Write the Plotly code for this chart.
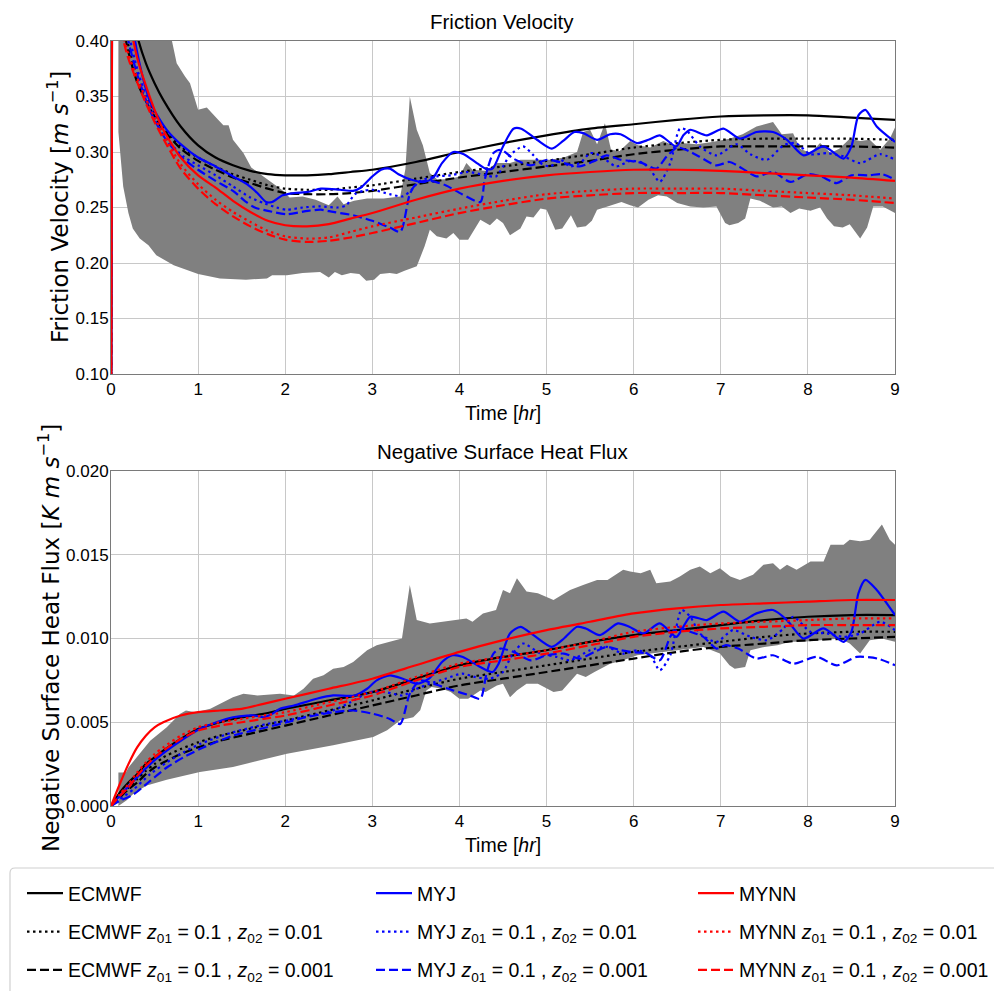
import plotly.graph_objects as go

# ------------------------------------------------------------------
# Time grids (hours)
# ------------------------------------------------------------------
T_UST = [0, 0.02, 0.05, 0.1, 0.15, 0.2, 0.3, 0.4, 0.5, 0.6, 0.8, 1.0, 1.2, 1.4, 1.6, 1.8, 2.0,
         2.25, 2.5, 2.75, 3.0, 3.5, 4.0, 4.5, 5.0, 5.5, 6.0, 6.5, 7.0, 7.5, 8.0, 8.5, 9.0]
T_HFX = [0, 0.1, 0.2, 0.3, 0.4, 0.5, 0.6, 0.8, 1.0, 1.25, 1.5, 1.75, 2.0, 2.5, 3.0,
         3.5, 4.0, 4.5, 5.0, 5.5, 6.0, 6.5, 7.0, 7.5, 8.0, 8.5, 9.0]

# ------------------------------------------------------------------
# Friction velocity u* [m/s]
# ------------------------------------------------------------------
UST_ECMWF = [0, 0.75, 0.62, 0.53, 0.48, 0.445, 0.405, 0.38, 0.362, 0.347, 0.323, 0.306, 0.295,
             0.288, 0.283, 0.280, 0.279, 0.279, 0.280, 0.282, 0.284, 0.291, 0.300, 0.308, 0.315,
             0.321, 0.325, 0.329, 0.332, 0.333, 0.333, 0.331, 0.329]
UST_ECMWF_01 = [0, 0.62, 0.52, 0.455, 0.418, 0.396, 0.368, 0.350, 0.336, 0.323, 0.305, 0.295, 0.287,
                0.280, 0.275, 0.270, 0.267, 0.266, 0.266, 0.268, 0.270, 0.276, 0.282, 0.287, 0.292,
                0.298, 0.304, 0.308, 0.311, 0.312, 0.312, 0.312, 0.311]
UST_ECMWF_001 = [0, 0.60, 0.50, 0.445, 0.41, 0.39, 0.363, 0.346, 0.332, 0.320, 0.303, 0.292, 0.284,
                 0.277, 0.272, 0.267, 0.263, 0.262, 0.262, 0.263, 0.265, 0.271, 0.277, 0.282, 0.287,
                 0.292, 0.298, 0.302, 0.305, 0.305, 0.305, 0.305, 0.304]
UST_MYNN = [0, 0.70, 0.58, 0.50, 0.455, 0.425, 0.385, 0.36, 0.338, 0.320, 0.295, 0.279, 0.268,
            0.256, 0.246, 0.238, 0.234, 0.233, 0.235, 0.240, 0.245, 0.257, 0.267, 0.274, 0.279,
            0.282, 0.284, 0.284, 0.283, 0.281, 0.279, 0.277, 0.274]
UST_MYNN_01 = [0, 0.56, 0.475, 0.425, 0.402, 0.388, 0.367, 0.348, 0.331, 0.316, 0.289, 0.271, 0.257,
               0.246, 0.237, 0.229, 0.224, 0.222, 0.223, 0.228, 0.233, 0.241, 0.249, 0.256, 0.262,
               0.265, 0.267, 0.267, 0.267, 0.265, 0.263, 0.261, 0.258]
UST_MYNN_001 = [0, 0.55, 0.47, 0.42, 0.398, 0.384, 0.363, 0.344, 0.327, 0.312, 0.285, 0.267, 0.253,
                0.242, 0.233, 0.226, 0.221, 0.219, 0.220, 0.223, 0.227, 0.236, 0.245, 0.252, 0.258,
                0.261, 0.263, 0.263, 0.263, 0.261, 0.259, 0.257, 0.254]

UST_MYJ = [(0, 0), (0.02, 0.72), (0.05, 0.60), (0.1, 0.52), (0.15, 0.47), (0.2, 0.44), (0.3, 0.39),
           (0.45, 0.345), (0.64, 0.320), (0.83, 0.305), (1.0, 0.295), (1.2, 0.287), (1.4, 0.278),
           (1.56, 0.271), (1.68, 0.263), (1.78, 0.255), (1.85, 0.255), (1.97, 0.261), (2.1, 0.263),
           (2.26, 0.264), (2.41, 0.267), (2.63, 0.266), (2.78, 0.265), (2.87, 0.268), (3.0, 0.278),
           (3.1, 0.284), (3.2, 0.285), (3.3, 0.280), (3.45, 0.275), (3.6, 0.273), (3.7, 0.277),
           (3.8, 0.290), (3.93, 0.300), (4.05, 0.298), (4.2, 0.290), (4.3, 0.285), (4.38, 0.285),
           (4.5, 0.305), (4.62, 0.321), (4.71, 0.321), (4.89, 0.311), (5.06, 0.303), (5.19, 0.310),
           (5.32, 0.318), (5.42, 0.317), (5.58, 0.311), (5.73, 0.316), (5.85, 0.316), (6.04, 0.308),
           (6.17, 0.311), (6.3, 0.315), (6.49, 0.305), (6.57, 0.315), (6.65, 0.320), (6.84, 0.315),
           (7.03, 0.321), (7.22, 0.312), (7.41, 0.318), (7.6, 0.318), (7.76, 0.311), (7.95, 0.297),
           (8.18, 0.305), (8.41, 0.294), (8.5, 0.305), (8.58, 0.333), (8.66, 0.338), (8.79, 0.323),
           (9.0, 0.309)]
UST_MYJ_01 = [(0, 0), (0.02, 0.65), (0.05, 0.54), (0.1, 0.47), (0.15, 0.43), (0.2, 0.408), (0.3, 0.375),
              (0.45, 0.340), (0.64, 0.312), (0.83, 0.296), (1.0, 0.288), (1.2, 0.279), (1.4, 0.269),
              (1.6, 0.259), (1.75, 0.254), (1.9, 0.250), (2.02, 0.248), (2.2, 0.250), (2.4, 0.251),
              (2.6, 0.250), (2.7, 0.252), (2.8, 0.262), (2.9, 0.265), (3.0, 0.266), (3.2, 0.262),
              (3.35, 0.260), (3.45, 0.266), (3.55, 0.274), (3.74, 0.278), (3.9, 0.279), (4.1, 0.282),
              (4.3, 0.279), (4.42, 0.278), (4.58, 0.297), (4.73, 0.305), (4.85, 0.297), (4.93, 0.290),
              (5.04, 0.287), (5.16, 0.293), (5.27, 0.287), (5.4, 0.291), (5.5, 0.299), (5.61, 0.297),
              (5.8, 0.287), (5.96, 0.292), (6.11, 0.290), (6.2, 0.283), (6.3, 0.273), (6.42, 0.290),
              (6.53, 0.321), (6.6, 0.320), (6.76, 0.305), (6.95, 0.297), (7.18, 0.307), (7.34, 0.298),
              (7.53, 0.293), (7.72, 0.306), (7.86, 0.308), (8.03, 0.298), (8.22, 0.299), (8.41, 0.296),
              (8.6, 0.290), (8.83, 0.298), (9.0, 0.293)]
UST_MYJ_001 = [(0, 0), (0.02, 0.63), (0.05, 0.53), (0.1, 0.46), (0.15, 0.423), (0.2, 0.40), (0.3, 0.37),
               (0.45, 0.337), (0.64, 0.310), (0.83, 0.294), (1.0, 0.284), (1.2, 0.274), (1.4, 0.265),
               (1.55, 0.255), (1.65, 0.250), (1.8, 0.247), (2.02, 0.244), (2.26, 0.247), (2.41, 0.248),
               (2.55, 0.246), (2.78, 0.243), (3.0, 0.238), (3.2, 0.232), (3.32, 0.228), (3.43, 0.262),
               (3.51, 0.272), (3.66, 0.274), (3.84, 0.270), (4.03, 0.262), (4.24, 0.255), (4.29, 0.275),
               (4.39, 0.299), (4.48, 0.302), (4.62, 0.294), (4.82, 0.288), (5.01, 0.293), (5.2, 0.290),
               (5.38, 0.287), (5.55, 0.292), (5.69, 0.297), (5.85, 0.293), (5.96, 0.292), (6.1, 0.290),
               (6.26, 0.285), (6.38, 0.296), (6.5, 0.304), (6.6, 0.302), (6.75, 0.296), (6.95, 0.288),
               (7.1, 0.291), (7.25, 0.285), (7.41, 0.278), (7.6, 0.282), (7.8, 0.273), (8.0, 0.280),
               (8.15, 0.278), (8.33, 0.272), (8.5, 0.279), (8.7, 0.279), (8.85, 0.280), (9.0, 0.275)]

# observed spread of u* (lower / upper envelope)
UST_OBS_LO = [(0.085, 0.318), (0.14, 0.269), (0.2, 0.245), (0.25, 0.231), (0.33, 0.222), (0.43, 0.216),
              (0.52, 0.207), (0.72, 0.198), (1.0, 0.190), (1.25, 0.186), (1.55, 0.185), (1.79, 0.186),
              (1.85, 0.189), (2.02, 0.189), (2.2, 0.191), (2.4, 0.192), (2.5, 0.187), (2.57, 0.192),
              (2.65, 0.189), (2.75, 0.191), (2.85, 0.190), (2.93, 0.184), (3.02, 0.185), (3.09, 0.190),
              (3.2, 0.191), (3.28, 0.190), (3.37, 0.193), (3.51, 0.197), (3.6, 0.215), (3.66, 0.230),
              (3.74, 0.224), (3.85, 0.222), (3.93, 0.227), (4.0, 0.221), (4.1, 0.221), (4.24, 0.239),
              (4.35, 0.234), (4.43, 0.240), (4.5, 0.236), (4.58, 0.225), (4.7, 0.231), (4.77, 0.242),
              (4.85, 0.241), (4.93, 0.249), (5.0, 0.248), (5.1, 0.230), (5.18, 0.231), (5.28, 0.243),
              (5.35, 0.232), (5.45, 0.233), (5.52, 0.238), (5.58, 0.248), (5.7, 0.251), (5.86, 0.255),
              (5.96, 0.252), (6.05, 0.250), (6.17, 0.257), (6.28, 0.261), (6.38, 0.260), (6.5, 0.254),
              (6.65, 0.251), (6.8, 0.250), (6.95, 0.251), (7.05, 0.236), (7.1, 0.234), (7.2, 0.236),
              (7.28, 0.240), (7.34, 0.258), (7.45, 0.256), (7.6, 0.250), (7.7, 0.251), (7.8, 0.245),
              (7.9, 0.249), (8.03, 0.247), (8.14, 0.250), (8.22, 0.240), (8.3, 0.233), (8.4, 0.232),
              (8.48, 0.235), (8.6, 0.222), (8.68, 0.232), (8.75, 0.251), (8.86, 0.251), (9.0, 0.245)]
UST_OBS_HI = [(0.085, 0.60), (0.6, 0.45), (0.7, 0.40), (0.754, 0.380), (0.85, 0.368), (0.907, 0.362),
              (1.0, 0.338), (1.1, 0.340), (1.23, 0.329), (1.29, 0.324), (1.35, 0.324), (1.40, 0.311),
              (1.52, 0.299), (1.61, 0.286), (1.75, 0.278), (1.96, 0.266), (2.05, 0.259), (2.2, 0.260),
              (2.35, 0.257), (2.5, 0.252), (2.6, 0.260), (2.67, 0.253), (2.79, 0.256), (2.94, 0.258),
              (3.13, 0.258), (3.32, 0.260), (3.38, 0.285), (3.43, 0.350), (3.51, 0.320), (3.58, 0.306),
              (3.66, 0.281), (3.75, 0.275), (3.9, 0.276), (4.0, 0.278), (4.08, 0.290), (4.15, 0.284),
              (4.3, 0.283), (4.43, 0.290), (4.58, 0.290), (4.7, 0.293), (4.9, 0.293), (5.04, 0.293),
              (5.2, 0.295), (5.35, 0.300), (5.42, 0.318), (5.5, 0.320), (5.58, 0.307), (5.67, 0.326),
              (5.74, 0.302), (5.84, 0.301), (5.96, 0.310), (6.05, 0.306), (6.19, 0.304), (6.34, 0.310),
              (6.45, 0.306), (6.55, 0.308), (6.72, 0.307), (6.9, 0.309), (7.1, 0.312), (7.25, 0.316),
              (7.41, 0.323), (7.6, 0.327), (7.7, 0.316), (7.83, 0.317), (7.91, 0.303), (8.03, 0.299),
              (8.14, 0.308), (8.26, 0.299), (8.36, 0.303), (8.48, 0.312), (8.6, 0.310), (8.71, 0.311),
              (8.83, 0.302), (8.94, 0.312), (9.0, 0.322)]

# ------------------------------------------------------------------
# Negative surface heat flux [K m/s]
# ------------------------------------------------------------------
HFX_ECMWF = [0, 0.0008, 0.0014, 0.0019, 0.0025, 0.0029, 0.0033, 0.0040, 0.0046, 0.0050, 0.0053,
             0.0055, 0.0058, 0.0063, 0.0068, 0.0076, 0.0084, 0.0089, 0.0093, 0.0098, 0.0102, 0.0105,
             0.0108, 0.0111, 0.0113, 0.0114, 0.0114]
HFX_ECMWF_01 = [0, 0.0006, 0.0011, 0.0016, 0.0021, 0.0025, 0.0029, 0.0034, 0.0038, 0.0042, 0.0045,
                0.0048, 0.0051, 0.0057, 0.0063, 0.0070, 0.0076, 0.0080, 0.0084, 0.0088, 0.0092, 0.0095,
                0.0098, 0.0101, 0.0103, 0.0104, 0.0104]
HFX_ECMWF_001 = [0, 0.0005, 0.0010, 0.0014, 0.0019, 0.0023, 0.0026, 0.0031, 0.0035, 0.0039, 0.0042,
                 0.0045, 0.0048, 0.0054, 0.0060, 0.0066, 0.0072, 0.0076, 0.0080, 0.0084, 0.0088, 0.0092,
                 0.0095, 0.0097, 0.0099, 0.0100, 0.0101]
HFX_MYNN = [0, 0.0013, 0.0025, 0.0035, 0.0042, 0.0047, 0.0050, 0.0054, 0.0056, 0.0057, 0.0058,
            0.0061, 0.0064, 0.0070, 0.0076, 0.0084, 0.0092, 0.0099, 0.0105, 0.0110, 0.0115, 0.0118,
            0.0120, 0.0121, 0.0122, 0.0123, 0.0123]
HFX_MYNN_01 = [0, 0.0007, 0.0013, 0.0020, 0.0026, 0.0031, 0.0035, 0.0042, 0.0047, 0.0050, 0.0052,
               0.0054, 0.0056, 0.0062, 0.0068, 0.0077, 0.0085, 0.0089, 0.0093, 0.0098, 0.0104, 0.0107,
               0.0109, 0.0110, 0.0111, 0.0112, 0.0112]
HFX_MYNN_001 = [0, 0.0006, 0.0011, 0.0018, 0.0024, 0.0029, 0.0033, 0.0040, 0.0045, 0.0048, 0.0050,
                0.0052, 0.0054, 0.0060, 0.0066, 0.0075, 0.0083, 0.0087, 0.0091, 0.0096, 0.0101, 0.0104,
                0.0106, 0.0107, 0.0108, 0.0108, 0.0108]

HFX_MYJ = [(0, 0), (0.1, 0.0006), (0.26, 0.0015), (0.45, 0.0025), (0.64, 0.0033), (0.83, 0.0040),
           (1.02, 0.0046), (1.21, 0.0050), (1.4, 0.0053), (1.56, 0.0054), (1.66, 0.0054), (1.75, 0.0053),
           (1.85, 0.0055), (1.94, 0.0058), (2.1, 0.0060), (2.36, 0.0064), (2.55, 0.0066), (2.8, 0.0066),
           (2.94, 0.0070), (3.05, 0.0075), (3.2, 0.0078), (3.35, 0.0076), (3.51, 0.0073), (3.65, 0.0076),
           (3.8, 0.0086), (3.92, 0.0090), (4.04, 0.0089), (4.24, 0.0083), (4.38, 0.0080), (4.45, 0.0085),
           (4.58, 0.0103), (4.7, 0.0107), (4.85, 0.0102), (5.06, 0.0095), (5.2, 0.0100), (5.35, 0.0107),
           (5.45, 0.0106), (5.61, 0.0102), (5.82, 0.0109), (5.95, 0.0107), (6.11, 0.0103), (6.3, 0.0109),
           (6.49, 0.0101), (6.57, 0.0107), (6.65, 0.0113), (6.84, 0.0111), (7.03, 0.0116), (7.22, 0.0110),
           (7.41, 0.0115), (7.6, 0.0117), (7.76, 0.0111), (7.95, 0.0100), (8.18, 0.0106), (8.41, 0.0098),
           (8.5, 0.0104), (8.58, 0.0127), (8.66, 0.0135), (8.79, 0.0129), (9.0, 0.0114)]
HFX_MYJ_01 = [(0, 0), (0.1, 0.0004), (0.26, 0.0010), (0.45, 0.0019), (0.64, 0.0026), (0.83, 0.0032),
              (1.02, 0.0037), (1.4, 0.0044), (1.79, 0.0049), (2.02, 0.0051), (2.3, 0.0054), (2.55, 0.0057),
              (2.75, 0.0062), (2.97, 0.0068), (3.15, 0.0068), (3.35, 0.0066), (3.51, 0.0070), (3.66, 0.0073),
              (3.84, 0.0076), (4.03, 0.0079), (4.18, 0.0077), (4.35, 0.0076), (4.5, 0.0080), (4.6, 0.0090),
              (4.73, 0.0097), (4.93, 0.0091), (5.12, 0.0089), (5.27, 0.0087), (5.5, 0.0093), (5.69, 0.0095),
              (5.88, 0.0091), (6.04, 0.0093), (6.19, 0.0090), (6.3, 0.0081), (6.42, 0.0090), (6.55, 0.0117),
              (6.65, 0.0113), (6.76, 0.0103), (6.95, 0.0098), (7.14, 0.0105), (7.34, 0.0101), (7.53, 0.0099),
              (7.72, 0.0106), (7.83, 0.0113), (8.03, 0.0104), (8.22, 0.0103), (8.41, 0.0101), (8.6, 0.0103),
              (8.83, 0.0110), (9.0, 0.0105)]
HFX_MYJ_001 = [(0, 0), (0.1, 0.0003), (0.26, 0.0007), (0.45, 0.0015), (0.64, 0.0023), (0.83, 0.0029),
               (1.02, 0.0034), (1.4, 0.0042), (1.79, 0.0047), (2.02, 0.0050), (2.24, 0.0053), (2.55, 0.0056),
               (2.78, 0.0057), (3.01, 0.0055), (3.2, 0.0052), (3.32, 0.0049), (3.43, 0.0067), (3.55, 0.0075),
               (3.7, 0.0073), (3.93, 0.0069), (4.12, 0.0066), (4.24, 0.0064), (4.31, 0.0079), (4.39, 0.0091),
               (4.47, 0.0094), (4.62, 0.0092), (4.82, 0.0087), (5.0, 0.0090), (5.2, 0.0091), (5.38, 0.0088),
               (5.55, 0.0092), (5.69, 0.0095), (5.85, 0.0093), (5.96, 0.0092), (6.15, 0.0091), (6.3, 0.0087),
               (6.42, 0.0101), (6.5, 0.0107), (6.65, 0.0104), (6.8, 0.0101), (6.95, 0.0094), (7.06, 0.0096),
               (7.2, 0.0094), (7.41, 0.0088), (7.6, 0.0090), (7.83, 0.0085), (8.1, 0.0089), (8.33, 0.0084),
               (8.56, 0.0089), (8.8, 0.0088), (9.0, 0.0084)]

HFX_OBS_LO = [(0.085, 0.0), (0.18, 0.00034), (0.26, 0.00074), (0.41, 0.00123), (0.64, 0.00157),
              (1.02, 0.00203), (1.4, 0.00233), (2.02, 0.00312), (2.55, 0.00362), (3.01, 0.00412),
              (3.17, 0.00452), (3.32, 0.00512), (3.47, 0.0053), (3.55, 0.00571), (3.62, 0.0069),
              (3.68, 0.0071), (3.8, 0.0070), (3.9, 0.0068), (4.0, 0.0064), (4.1, 0.0064), (4.24, 0.0069),
              (4.3, 0.0068), (4.43, 0.0072), (4.5, 0.0073), (4.58, 0.0065), (4.66, 0.0069), (4.77, 0.0073),
              (4.9, 0.0073), (5.08, 0.0068), (5.18, 0.0069), (5.35, 0.0079), (5.45, 0.0077), (5.55, 0.0080),
              (5.73, 0.0085), (5.88, 0.0087), (6.04, 0.0090), (6.2, 0.0091), (6.35, 0.0092), (6.5, 0.0093),
              (6.65, 0.0094), (6.8, 0.0095), (6.99, 0.0091), (7.1, 0.0084), (7.16, 0.0082), (7.28, 0.0083),
              (7.34, 0.0093), (7.5, 0.0095), (7.65, 0.0096), (7.8, 0.0098), (7.95, 0.0098), (8.15, 0.0099),
              (8.37, 0.0100), (8.48, 0.0097), (8.6, 0.0091), (8.71, 0.0099), (8.85, 0.0100), (9.0, 0.0098)]
HFX_OBS_HI = [(0.085, 0.0020), (0.17, 0.0020), (0.2, 0.0023), (0.26, 0.0027), (0.45, 0.0039),
              (0.64, 0.0047), (0.79, 0.0055), (0.86, 0.0057), (0.97, 0.0056), (1.14, 0.0058),
              (1.29, 0.0062), (1.4, 0.0065), (1.52, 0.0067), (1.68, 0.0066), (1.94, 0.0067), (2.1, 0.0066),
              (2.21, 0.0070), (2.32, 0.0076), (2.44, 0.0078), (2.55, 0.0082), (2.67, 0.0083), (2.78, 0.0086),
              (2.94, 0.0093), (3.05, 0.0096), (3.2, 0.0098), (3.34, 0.0100), (3.43, 0.0132), (3.51, 0.0111),
              (3.66, 0.0109), (3.8, 0.0110), (3.97, 0.0111), (4.08, 0.0112), (4.15, 0.0110), (4.27, 0.0115),
              (4.42, 0.0117), (4.5, 0.0129), (4.58, 0.0127), (4.66, 0.0136), (4.77, 0.0128), (4.9, 0.0127),
              (5.08, 0.0123), (5.27, 0.0129), (5.42, 0.0132), (5.58, 0.0135), (5.7, 0.0135), (5.88, 0.0141),
              (5.96, 0.0140), (6.08, 0.0139), (6.19, 0.0141), (6.26, 0.0133), (6.42, 0.0134), (6.53, 0.0137),
              (6.65, 0.0141), (6.76, 0.0143), (6.88, 0.0139), (6.99, 0.0142), (7.11, 0.0137), (7.22, 0.0135),
              (7.37, 0.0138), (7.49, 0.0144), (7.6, 0.0145), (7.68, 0.0141), (7.76, 0.0144), (7.87, 0.0141),
              (8.03, 0.0146), (8.18, 0.0146), (8.26, 0.0156), (8.41, 0.0156), (8.48, 0.0159), (8.6, 0.0158),
              (8.71, 0.0159), (8.85, 0.0168), (8.94, 0.0159), (9.0, 0.0156)]

# ------------------------------------------------------------------
# Labels and styles
# ------------------------------------------------------------------
SUFFIX_01 = " <i>z</i><sub>01</sub> = 0.1 , <i>z</i><sub>02</sub> = 0.01"
SUFFIX_001 = " <i>z</i><sub>01</sub> = 0.1 , <i>z</i><sub>02</sub> = 0.001"
X_TICKS = [0, 1, 2, 3, 4, 5, 6, 7, 8, 9]
UST_LABEL = "Friction Velocity [<i>m s</i><sup>\u22121</sup>]"
HFX_LABEL = "Negative Surface Heat Flux [<i>K m s</i><sup>\u22121</sup>]"
TIME_LABEL = "Time [<i>hr</i>]"

SANS = "Liberation Sans, Arial, sans-serif"
WIDE = "DejaVu Sans, sans-serif"

BLACK, BLUE, RED, GREY = "#000000", "#0000ff", "#ff0000", "#808080"
DOT = "2.5px,3.5px"
DASH = "9px,4px"


def split(pairs):
    return [p[0] for p in pairs], [p[1] for p in pairs]


fig = go.Figure()


def band(lo, hi, xa, ya):
    tl, vl = split(lo)
    th, vh = split(hi)
    fig.add_trace(go.Scatter(x=tl, y=vl, mode="lines", line=dict(width=0, color=GREY),
                             showlegend=False, hoverinfo="skip", xaxis=xa, yaxis=ya))
    fig.add_trace(go.Scatter(x=th, y=vh, mode="lines", line=dict(width=0, color=GREY),
                             fill="tonexty", fillcolor=GREY, showlegend=False,
                             hoverinfo="skip", xaxis=xa, yaxis=ya))


band(UST_OBS_LO, UST_OBS_HI, "x", "y")
band(HFX_OBS_LO, HFX_OBS_HI, "x2", "y2")

# (name, legend, colour, dash, u* data, heat-flux data)
SERIES = [
    ("ECMWF", "legend", BLACK, "solid", (T_UST, UST_ECMWF), (T_HFX, HFX_ECMWF)),
    ("ECMWF" + SUFFIX_01, "legend", BLACK, DOT, (T_UST, UST_ECMWF_01), (T_HFX, HFX_ECMWF_01)),
    ("ECMWF" + SUFFIX_001, "legend", BLACK, DASH, (T_UST, UST_ECMWF_001), (T_HFX, HFX_ECMWF_001)),
    ("MYJ", "legend2", BLUE, "solid", split(UST_MYJ), split(HFX_MYJ)),
    ("MYJ" + SUFFIX_01, "legend2", BLUE, DOT, split(UST_MYJ_01), split(HFX_MYJ_01)),
    ("MYJ" + SUFFIX_001, "legend2", BLUE, DASH, split(UST_MYJ_001), split(HFX_MYJ_001)),
    ("MYNN", "legend3", RED, "solid", (T_UST, UST_MYNN), (T_HFX, HFX_MYNN)),
    ("MYNN" + SUFFIX_01, "legend3", RED, DOT, (T_UST, UST_MYNN_01), (T_HFX, HFX_MYNN_01)),
    ("MYNN" + SUFFIX_001, "legend3", RED, DASH, (T_UST, UST_MYNN_001), (T_HFX, HFX_MYNN_001)),
]


def style(col, dash):
    return dict(color=col, width=2.2, dash=dash, shape="spline", smoothing=0.7)


# heat-flux panel
for i, (name, leg, col, dash, ust, hfx) in enumerate(SERIES):
    fig.add_trace(go.Scatter(x=hfx[0], y=hfx[1], mode="lines", name=name, line=style(col, dash),
                             legend=leg, legendgroup="g%d" % i, showlegend=False,
                             xaxis="x2", yaxis="y2"))

# friction-velocity panel (carries the legend); the solid MYNN curve goes on top
top_order = [0, 1, 2, 3, 4, 5, 7, 8, 6]
for i in top_order:
    name, leg, col, dash, ust, hfx = SERIES[i]
    fig.add_trace(go.Scatter(x=ust[0], y=ust[1], mode="lines", name=name, line=style(col, dash),
                             legend=leg, legendgroup="g%d" % i, legendrank=100 + i,
                             xaxis="x", yaxis="y"))

# ------------------------------------------------------------------
# Layout
# ------------------------------------------------------------------
W, H = 994, 991
L, R, T, B = 111, 99, 41, 185
PW, PH = W - L - R, H - T - B


def px_x(px):
    return (px - L) / PW


def px_y(py):
    return (H - B - py) / PH


axis_common = dict(
    showgrid=True, gridcolor="#c8c8c8", gridwidth=1, zeroline=False,
    showline=True, linecolor="#7a7a7a", linewidth=1, mirror=True,
    ticks="", tickfont=dict(family=SANS, size=17, color="black"),
)

xaxis = dict(axis_common, range=[0, 9], tickvals=X_TICKS,
             title=dict(text=TIME_LABEL, font=dict(family=SANS, size=19.5, color="black"),
                        standoff=7))


def label(text, x, y, size, family, angle=0):
    return dict(text=text, xref="paper", yref="paper", x=px_x(x), y=px_y(y),
                xanchor="center", yanchor="middle", showarrow=False, textangle=angle,
                font=dict(family=family, size=size, color="black"))


fig.update_layout(
    width=W, height=H,
    margin=dict(l=L, r=R, t=T, b=B, autoexpand=False),
    paper_bgcolor="white", plot_bgcolor="white",
    xaxis=dict(xaxis, domain=[0, 1], anchor="y"),
    yaxis=dict(axis_common, domain=[px_y(374), 1], anchor="x", range=[0.1, 0.4],
               dtick=0.05, tickformat=".2f", ticklabelstandoff=-2),
    xaxis2=dict(xaxis, domain=[0, 1], anchor="y2"),
    yaxis2=dict(axis_common, domain=[0, px_y(471)], anchor="x2", range=[0, 0.02],
                dtick=0.005, tickformat=".3f", ticklabelstandoff=-2),
    showlegend=True,
    annotations=[
        label("Friction Velocity", 502, 21, 20.5, SANS),
        label("Negative Surface Heat Flux", 502, 451, 20.5, SANS),
        label(UST_LABEL, 58, 207, 23, WIDE, -90),
        label(HFX_LABEL, 49, 638, 23, WIDE, -90),
    ],
)

legend_common = dict(orientation="v", xanchor="left", yanchor="top", y=px_y(874),
                     bgcolor="rgba(0,0,0,0)", borderwidth=0, tracegroupgap=10, itemwidth=36,
                     font=dict(family=SANS, size=19.5, color="black"))
fig.update_layout(
    legend=dict(legend_common, x=px_x(22)),
    legend2=dict(legend_common, x=px_x(371)),
    legend3=dict(legend_common, x=px_x(693)),
)

# rounded frame around the three legend columns
x0, x1, y0, y1 = px_x(10), px_x(1005), px_y(868), px_y(996)
rx, ry = 5 / PW, 5 / PH
frame = (f"M{x0 + rx},{y0} L{x1 - rx},{y0} Q{x1},{y0} {x1},{y0 - ry} L{x1},{y1 + ry} "
         f"Q{x1},{y1} {x1 - rx},{y1} L{x0 + rx},{y1} Q{x0},{y1} {x0},{y1 + ry} "
         f"L{x0},{y0 - ry} Q{x0},{y0} {x0 + rx},{y0} Z")
fig.add_shape(type="path", path=frame, xref="paper", yref="paper",
              line=dict(color="#d0d0d0", width=1.2), fillcolor="rgba(255,255,255,0)", layer="above")

fig.write_html("out.html")
